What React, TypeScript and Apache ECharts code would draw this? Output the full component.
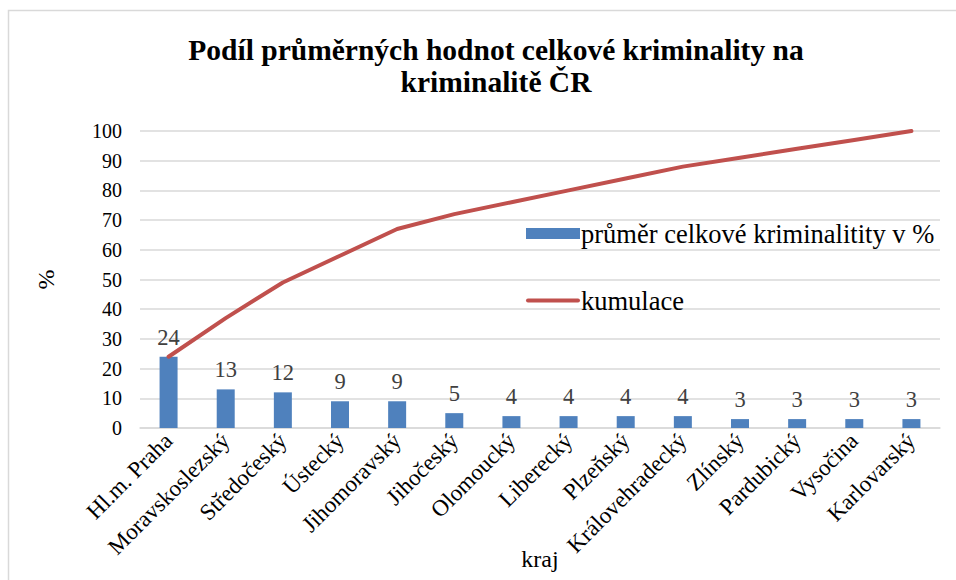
import React, { useEffect, useRef } from "react";
import * as echarts from "echarts";

const categories = [
  "Hl.m. Praha",
  "Moravskoslezský",
  "Středočeský",
  "Ústecký",
  "Jihomoravský",
  "Jihočeský",
  "Olomoucký",
  "Liberecký",
  "Plzeňský",
  "Královehradecký",
  "Zlínský",
  "Pardubický",
  "Vysočina",
  "Karlovarský",
];
const shareValues = [24, 13, 12, 9, 9, 5, 4, 4, 4, 4, 3, 3, 3, 3];
const cumulativeValues = [24, 37, 49, 58, 67, 72, 76, 80, 84, 88, 91, 94, 97, 100];
const barName = "průměr celkové kriminalitity v %";
const lineName = "kumulace";
const titleText = "Podíl průměrných hodnot celkové kriminality na\nkriminalitě ČR";

const FONT = "Liberation Serif";

export default function App() {
  const ref = useRef<HTMLDivElement>(null);
  useEffect(() => {
    if (!ref.current) return;
    const chart = echarts.init(ref.current, undefined, { renderer: "svg" });
    chart.setOption({
      animation: false,
      backgroundColor: "#ffffff",
      textStyle: { fontFamily: FONT },
      graphic: [
        {
          type: "rect",
          shape: { x: 8.5, y: 10.5, width: 1000, height: 1000 },
          style: { fill: "none", stroke: "#d9d9d9", lineWidth: 1.5 },
          silent: true,
          z: -1,
        },
        {
          type: "text",
          x: 496,
          y: 66,
          style: {
            text: titleText,
            align: "center",
            verticalAlign: "middle",
            fontFamily: FONT,
            fontWeight: "bold",
            fontSize: 29.5,
            lineHeight: 32,
            fill: "#000000",
          },
        },
      ],
      legend: {
        orient: "vertical",
        left: 521,
        top: 215,
        itemGap: 40,
        itemWidth: 54,
        itemHeight: 11,
        textStyle: { fontFamily: FONT, fontSize: 26.5, color: "#000000", padding: [0, 0, 0, -4] },
        data: [
          { name: barName, icon: "rect" },
          { name: lineName, icon: "path://M2,0 L52,0 A2,2 0 0 1 52,4 L2,4 A2,2 0 0 1 2,0 Z" },
        ],
      },
      grid: {
        left: 140,
        right: 16,
        top: 131,
        bottom: 152,
        containLabel: false,
        outerBoundsMode: "none",
      },
      xAxis: {
        type: "category",
        data: categories,
        name: "kraj",
        nameLocation: "middle",
        nameGap: 119,
        nameMoveOverlap: false,
        nameTextStyle: { fontFamily: FONT, fontSize: 24, color: "#000000" },
        axisLine: { show: true, lineStyle: { color: "#d9d9d9", width: 1.5 } },
        axisTick: { show: false },
        axisLabel: {
          rotate: 45,
          interval: 0,
          margin: 9,
          fontFamily: FONT,
          fontSize: 23,
          color: "#000000",
        },
      },
      yAxis: {
        type: "value",
        min: 0,
        max: 100,
        interval: 10,
        name: "%",
        nameLocation: "middle",
        nameGap: 82,
        nameRotate: 90,
        nameMoveOverlap: false,
        nameTextStyle: { fontFamily: FONT, fontSize: 24, color: "#000000" },
        axisLine: { show: false },
        axisTick: { show: false },
        axisLabel: { fontFamily: FONT, fontSize: 20, color: "#000000", margin: 18 },
        splitLine: { lineStyle: { color: "#d9d9d9", width: 1.5 } },
      },
      series: [
        {
          name: barName,
          type: "bar",
          data: shareValues,
          barWidth: 18,
          itemStyle: { color: "#4f81bd" },
          label: {
            show: true,
            position: "top",
            distance: 8,
            fontFamily: FONT,
            fontSize: 22.5,
            color: "#404040",
          },
        },
        {
          name: lineName,
          type: "line",
          data: cumulativeValues,
          symbol: "none",
          lineStyle: { color: "#c0504d", width: 4, cap: "round" },
          itemStyle: { color: "#c0504d" },
        },
      ],
    });
    return () => chart.dispose();
  }, []);
  return (
    <div
      ref={ref}
      style={{ position: "absolute", left: 0, top: 0, width: 956, height: 580 }}
    />
  );
}
